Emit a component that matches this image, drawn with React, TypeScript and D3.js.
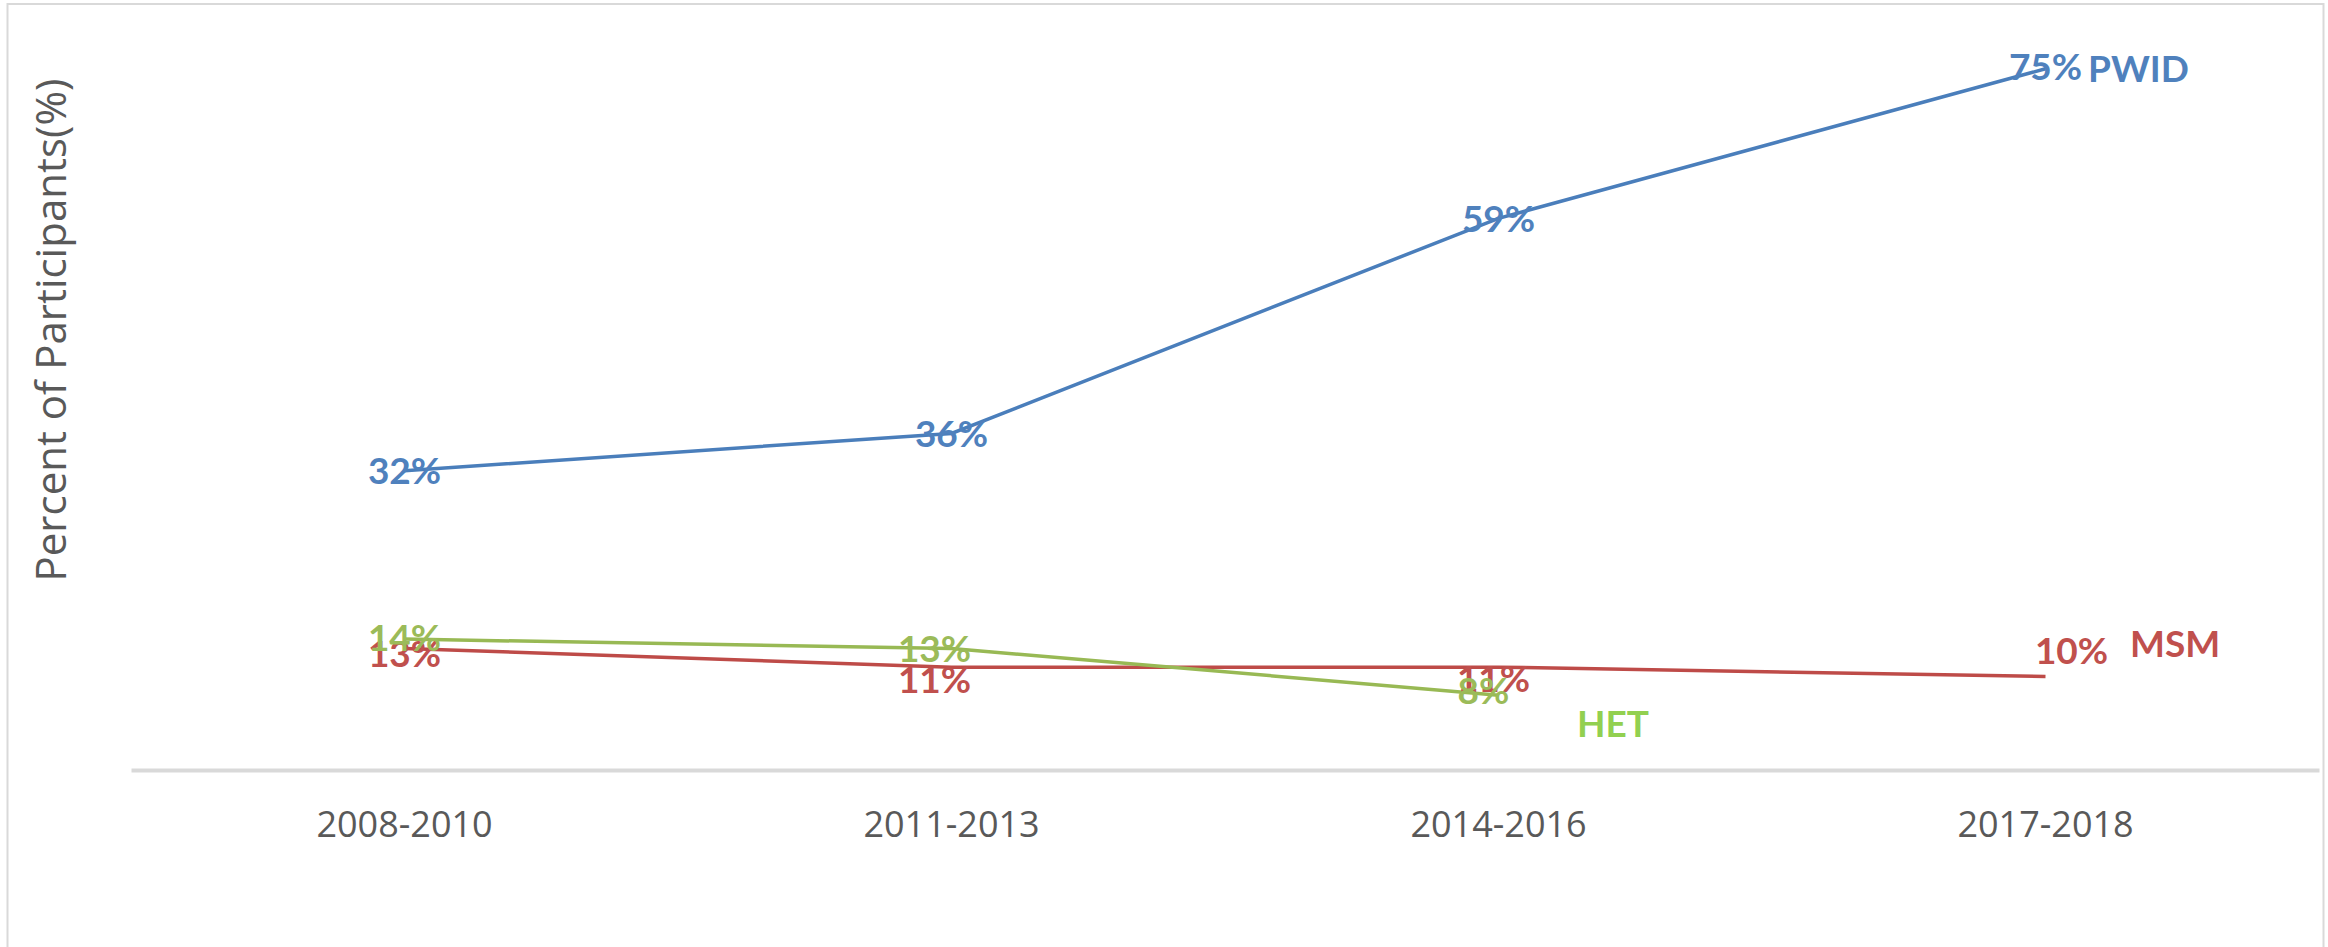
import { useEffect, useRef } from 'react'
import * as d3 from 'd3'

const categories = ['2008-2010', '2011-2013', '2014-2016', '2017-2018']
const pwid = [32, 36, 59, 75]
const msm = [13, 11, 11, 10]
const het = [14, 13, 8]

const yTitle = 'Percent of Participants(%)'

export default function App() {
  const ref = useRef<SVGSVGElement>(null)

  useEffect(() => {
    if (!ref.current) return
    const svg = d3.select(ref.current)
    svg.selectAll('*').remove()

    const W = 2328
    const H = 947

    // chart frame
    svg
      .append('rect')
      .attr('x', 7.5)
      .attr('y', 4)
      .attr('width', 2316)
      .attr('height', 980)
      .attr('fill', '#fff')
      .attr('stroke', '#d9d9d9')
      .attr('stroke-width', 2)

    const x = d3.scaleBand<string>().domain(categories).range([131, 2319])
    const y = d3.scaleLinear().domain([0, 80]).range([770, 22])
    const cx = (i: number) => (x(categories[i]) as number) + x.bandwidth() / 2

    // x axis
    const axis = svg
      .append('g')
      .attr('transform', 'translate(0,770)')
      .call(d3.axisBottom(x).tickSize(0).tickSizeOuter(0).tickPadding(41))
    axis.select('.domain').attr('stroke', '#d9d9d9').attr('stroke-width', 4)
    axis
      .selectAll('text')
      .attr('fill', '#595959')
      .style('font-family', '"Open Sans", sans-serif')
      .style('font-size', '36px')

    // y title
    svg
      .append('text')
      .attr('transform', 'translate(66,330) rotate(-90)')
      .attr('text-anchor', 'middle')
      .attr('fill', '#595959')
      .style('font-family', '"Open Sans", sans-serif')
      .style('font-size', '42px')
      .text(yTitle)

    const series = [
      {
        name: 'PWID',
        values: pwid,
        line: '#4a7ebb',
        color: '#4f81bd',
        offsets: [[0, 0], [0, 0], [0, 0], [0, -2]],
        nameAt: [2088, 82],
        nameColor: '#4f81bd'
      },
      {
        name: 'MSM',
        values: msm,
        line: '#be4b48',
        color: '#c0504d',
        offsets: [[0, 5], [-17, 13], [-5, 12], [26, -26]],
        nameAt: [2130, 657],
        nameColor: '#c0504d'
      },
      {
        name: 'HET',
        values: het,
        line: '#98b954',
        color: '#9bbb59',
        offsets: [[0, -1], [-17, 0], [-15, -5]],
        nameAt: [1577, 737],
        nameColor: '#92d050'
      }
    ]

    const line = d3
      .line<number>()
      .x((_, i) => cx(i))
      .y(d => y(d))

    series.forEach(s => {
      svg
        .append('path')
        .datum(s.values)
        .attr('fill', 'none')
        .attr('stroke', s.line)
        .attr('stroke-width', 3.5)
        .attr('d', line)
    })

    series.forEach(s => {
      s.values.forEach((v, i) => {
        svg
          .append('text')
          .attr('x', cx(i) + s.offsets[i][0])
          .attr('y', y(v) + s.offsets[i][1])
          .attr('dy', '0.36em')
          .attr('text-anchor', 'middle')
          .attr('fill', s.color)
          .style('font-family', 'Lato, sans-serif')
          .style('font-weight', 'bold')
          .style('font-size', '37px')
          .text(`${v}%`)
      })
      svg
        .append('text')
        .attr('x', s.nameAt[0])
        .attr('y', s.nameAt[1])
        .attr('fill', s.nameColor)
        .style('font-family', 'Lato, sans-serif')
        .style('font-weight', 'bold')
        .style('font-size', '37px')
        .text(s.name)
    })

    svg.attr('width', W).attr('height', H)
  }, [])

  return (
    <svg
      ref={ref}
      width={2328}
      height={947}
      style={{ position: 'absolute', left: 0, top: 0, display: 'block', background: '#fff' }}
    />
  )
}
